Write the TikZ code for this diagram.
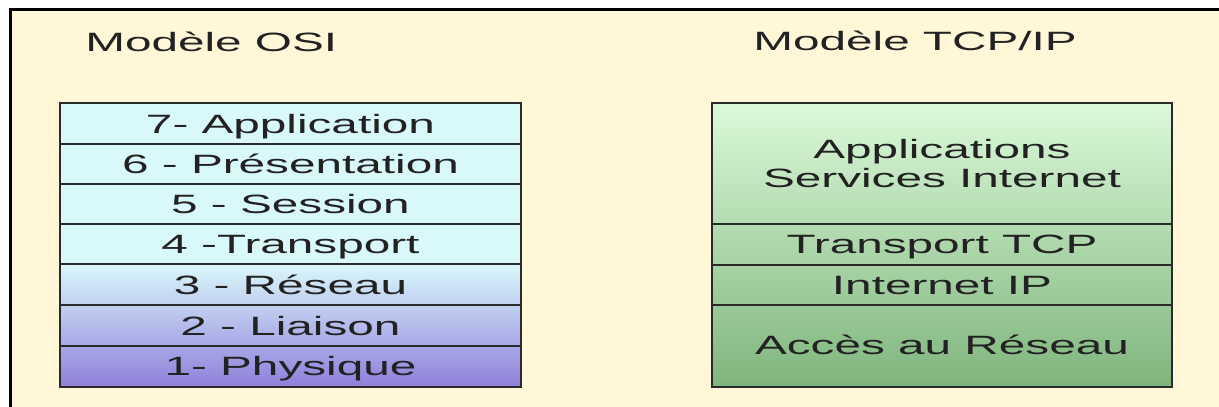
\documentclass[tikz,border=0pt]{standalone}
\usepackage{fontspec}
\setmainfont{Liberation Sans}
\definecolor{cream}{HTML}{FFF7D8}
\definecolor{osicyan}{HTML}{D9F8FA}
\definecolor{osimid}{HTML}{ABA6E8}
\definecolor{osibot}{HTML}{8F7FDB}
\definecolor{tcptop}{HTML}{DBF9D9}
\definecolor{tcpbot}{HTML}{7FB57D}
\definecolor{txt}{HTML}{222222}
\definecolor{edge}{HTML}{2A2A2A}
\tikzset{
  lbl/.style={font=\fontsize{26.5}{29}\selectfont, text=txt, xscale=1.8, inner sep=0pt, anchor=base},
  ttl/.style={font=\fontsize{26.5}{29}\selectfont, text=txt, xscale=1.8, inner sep=0pt, anchor=base west},
  sep/.style={draw=edge, line width=1.2pt},
  frame/.style={draw=edge, line width=1.5pt}
}
\begin{document}
\begin{tikzpicture}[x=1pt,y=-1pt]
\useasboundingbox (0,0) rectangle (1219,407);
\fill[white] (0,0) rectangle (1219,407);
\fill[cream] (9,8) rectangle (1219,407);
\fill[black] (9,8) rectangle (1219,11);
\fill[black] (9,8) rectangle (12,407);

% titles
\node[ttl] (tosi) at (85,51) {Modèle OSI};
\node[ttl] (ttcp) at (753,50) {Modèle TCP/IP};

% OSI stack
\fill[osicyan] (60,103) rectangle (521,264);
\shade[top color=osicyan, middle color=osimid, bottom color=osibot] (60,264) rectangle (521,387);
\foreach \yy in {144,184,224,264,305,346} \draw[sep] (60,\yy) -- (521,\yy);
\draw[frame] (60,103) rectangle (521,387);

\node[lbl] (o7) at (290.5,133) {7- Application};
\node[lbl] (o6) at (290.5,173.5) {6 - Présentation};
\node[lbl] (o5) at (290.5,213.5) {5 - Session};
\node[lbl] (o4) at (290.5,253.5) {4 -Transport};
\node[lbl] (o3) at (290.5,294) {3 - Réseau};
\node[lbl] (o2) at (290.5,335) {2 - Liaison};
\node[lbl] (o1) at (290.5,375) {1- Physique};

% TCP/IP stack
\shade[top color=tcptop, bottom color=tcpbot] (712,103) rectangle (1172,387);
\foreach \yy in {224,265,305} \draw[sep] (712,\yy) -- (1172,\yy);
\draw[frame] (712,103) rectangle (1172,387);

\node[lbl, align=center] (tapp) at (942,187) {Applications\\Services Internet};
\node[lbl] (ttr) at (942,253.5) {Transport TCP};
\node[lbl] (tip) at (942,294) {Internet IP};
\node[lbl] (tacc) at (942,354) {Accès au Réseau};
\end{tikzpicture}
\end{document}
